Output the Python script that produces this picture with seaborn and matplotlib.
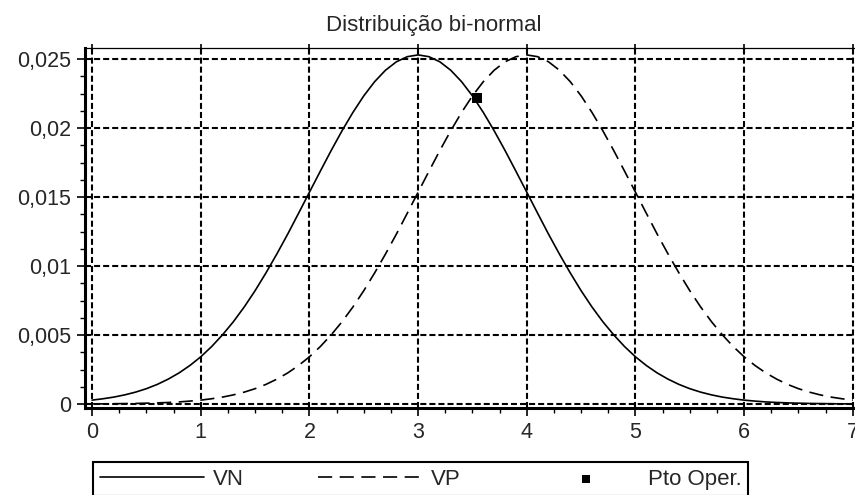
import matplotlib
matplotlib.use("Agg")
import matplotlib.pyplot as plt
import seaborn as sns
from matplotlib.ticker import MultipleLocator, FuncFormatter

# valores (passo 0,1 em x)
x_vals = [round(i * 0.1, 1) for i in range(71)]

vn = [0.00028, 0.00038, 0.00050, 0.00066, 0.00086, 0.00111, 0.00142, 0.00180, 0.00225, 0.00279,
      0.00342, 0.00416, 0.00501, 0.00596, 0.00703, 0.00821, 0.00950, 0.01087, 0.01231, 0.01382,
      0.01535, 0.01687, 0.01837, 0.01980, 0.02113, 0.02233, 0.02336, 0.02419, 0.02480, 0.02517,
      0.02530, 0.02517, 0.02480, 0.02419, 0.02336, 0.02233, 0.02113, 0.01980, 0.01837, 0.01687,
      0.01535, 0.01382, 0.01231, 0.01087, 0.00950, 0.00821, 0.00703, 0.00596, 0.00501, 0.00416,
      0.00342, 0.00279, 0.00225, 0.00180, 0.00142, 0.00111, 0.00086, 0.00066, 0.00050, 0.00038,
      0.00028, 0.00021, 0.00015, 0.00011, 0.00008, 0.00006, 0.00004, 0.00003, 0.00002, 0.00001,
      0.00001]

vp = [0.00001, 0.00001, 0.00002, 0.00003, 0.00004, 0.00006, 0.00008, 0.00011, 0.00015, 0.00021,
      0.00028, 0.00038, 0.00050, 0.00066, 0.00086, 0.00111, 0.00142, 0.00180, 0.00225, 0.00279,
      0.00342, 0.00416, 0.00501, 0.00596, 0.00703, 0.00821, 0.00950, 0.01087, 0.01231, 0.01382,
      0.01535, 0.01687, 0.01837, 0.01980, 0.02113, 0.02233, 0.02336, 0.02419, 0.02480, 0.02517,
      0.02530, 0.02517, 0.02480, 0.02419, 0.02336, 0.02233, 0.02113, 0.01980, 0.01837, 0.01687,
      0.01535, 0.01382, 0.01231, 0.01087, 0.00950, 0.00821, 0.00703, 0.00596, 0.00501, 0.00416,
      0.00342, 0.00279, 0.00225, 0.00180, 0.00142, 0.00111, 0.00086, 0.00066, 0.00050, 0.00038,
      0.00028]

pto_x = [3.54]
pto_y = [0.0222]

sns.set_style("white")
plt.rcParams["font.family"] = ["Liberation Sans", "DejaVu Sans"]

fig = plt.figure(figsize=(8.55, 4.95), dpi=100)
ax = fig.add_axes([85 / 855, 1 - 408 / 495, 1 - 85 / 855, (408 - 48) / 495])

sns.lineplot(x=x_vals, y=vn, ax=ax, color="black", lw=1.2, label="VN")
sns.lineplot(x=x_vals, y=vp, ax=ax, color="black", lw=1.2, linestyle=(0, (8.5, 4.5)), label="VP")
sns.scatterplot(x=pto_x, y=pto_y, ax=ax, color="black", marker="s", s=55, linewidth=0,
                label="Pto Oper.", zorder=5)

ax.set_xlim(-0.065, 7.02)
ax.set_ylim(-0.00029, 0.0258)
ax.xaxis.set_major_locator(MultipleLocator(1))
ax.xaxis.set_minor_locator(MultipleLocator(0.25))
ax.yaxis.set_major_locator(MultipleLocator(0.005))
ax.yaxis.set_minor_locator(MultipleLocator(0.00125))
ax.yaxis.set_major_formatter(FuncFormatter(lambda v, p: f"{v:g}".replace(".", ",")))

ax.grid(True, which="major", color="black", lw=1.5, linestyle=(0, (2.9, 1.45)))
ax.tick_params(axis="both", which="major", direction="out", length=6, width=1.2,
               labelsize=15.5, color="black", pad=4, bottom=True, left=True)
ax.tick_params(axis="both", which="minor", direction="out", length=3.5, width=1.0,
               color="black", bottom=True, left=True)
ax.tick_params(axis="x", which="major", top=True)
for t in ax.xaxis.get_major_ticks():
    t.tick2line.set_markersize(3)

for lado in ["left", "bottom"]:
    ax.spines[lado].set_linewidth(2.2)
    ax.spines[lado].set_color("black")
ax.spines["top"].set_linewidth(0.9)
ax.spines["top"].set_color("black")
ax.spines["right"].set_visible(False)

ax.set_xlabel("")
ax.set_ylabel("")
ax.set_title("Distribuição bi-normal", fontsize=16, x=0.453, pad=12)

handles, labels = ax.get_legend_handles_labels()
ax.get_legend().remove()
leg = fig.legend(handles, labels, loc="upper left", ncol=3, mode="expand",
                 bbox_to_anchor=(93 / 855, 0.0, (748 - 93) / 855, 1 - 462 / 495),
                 borderaxespad=0, fontsize=16, handlelength=4.7, handletextpad=0.4,
                 markerscale=0.75, fancybox=False, framealpha=1, edgecolor="black",
                 borderpad=0.3)
leg.get_frame().set_linewidth(1.5)

fig.savefig("out.png", dpi=100)
